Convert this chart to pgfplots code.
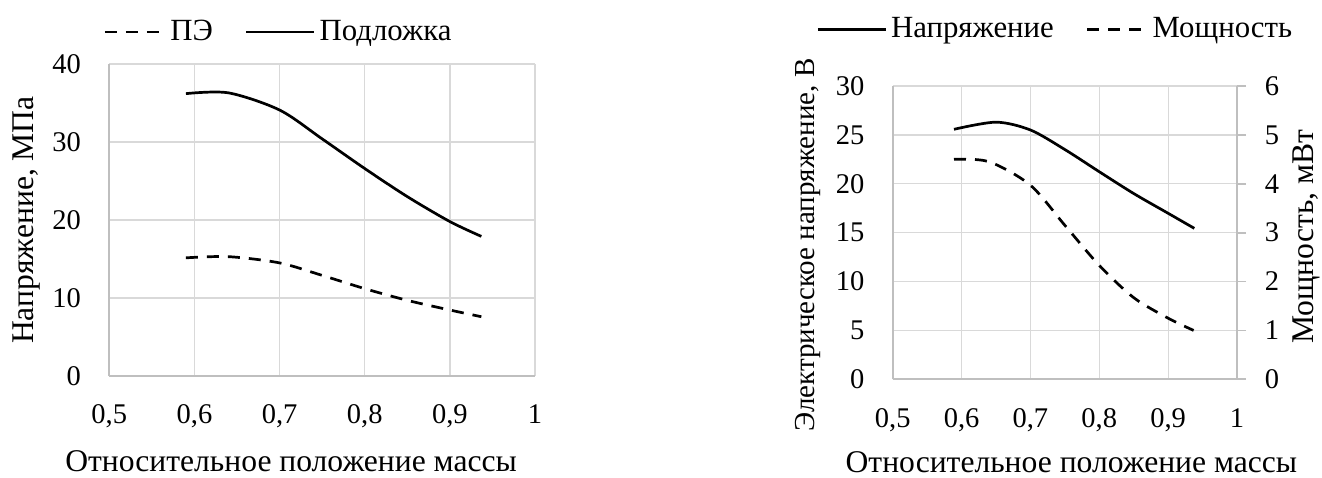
\documentclass[border=0pt]{standalone}
\usepackage{fontspec}
\setmainfont{Liberation Serif}
\usepackage{pgfplots}
\pgfplotsset{compat=1.18}

\definecolor{gridcol}{HTML}{D9D9D9}
\definecolor{axiscol}{HTML}{BFBFBF}

\pgfplotsset{
  excelstyle/.style={
    scale only axis,
    xmin=0.5, xmax=1,
    xtick={0.5,0.6,0.7,0.8,0.9,1},
    xticklabels={{0,5},{0,6},{0,7},{0,8},{0,9},1},
    grid=major,
    major grid style={draw=gridcol, line width=0.65pt},
    axis lines*=left,
    axis line style={-, draw=axiscol, line width=0.85pt},
    major tick length=0pt,
    ticklabel style={font=\fontsize{14.25}{16}\selectfont},
    label style={font=\fontsize{15.8}{18}\selectfont},
    xticklabel style={inner sep=0pt, anchor=north, yshift=-14.3pt},
    yticklabel style={inner sep=0pt, anchor=east, xshift=-14pt},
    /pgf/number format/assume math mode=true,
    legend style={draw=none, fill=none, font=\fontsize{15.4}{18}\selectfont,
      legend columns=-1,
      /tikz/every even column/.append style={column sep=14pt}},
    legend cell align=left,
  },
  solidline/.style={black, line width=1.35pt, smooth, line cap=butt,
    legend image code/.code={\draw[##1] (0pt,0pt) -- (34pt,0pt);}},
  dashline/.style={black, line width=1.35pt, smooth, line cap=butt,
    dash pattern=on 6pt off 4.5pt,
    legend image code/.code={\draw[##1] (0pt,0pt) -- (30pt,0pt);}},
}

\begin{document}
\begin{tikzpicture}
\useasboundingbox (0pt,0pt) rectangle (661pt,238.5pt);

% Left chart: stress in the film and in the substrate
\begin{axis}[excelstyle,
  at={(54.65pt,50.5pt)}, anchor=south west,
  width=212.85pt, height=156pt,
  ymin=0, ymax=40,
  ytick={0,10,20,30,40},
  yticklabels={0,10,20,30,40},
  xlabel={Относительное положение массы},
  ylabel={Напряжение, МПа},
  xlabel style={at={(axis description cs:0.427,-0.272)}, anchor=center},
  ylabel style={at={(axis description cs:-0.194,0.5)}, anchor=center},
  legend style={at={(axis description cs:0.40,1.103)}, anchor=center},
]
\addplot[dashline] coordinates {
  (0.590,15.15) (0.640,15.3) (0.700,14.5) (0.750,12.9)
  (0.800,11.2) (0.850,9.7) (0.900,8.46) (0.937,7.6)
};
\addlegendentry{ПЭ}
\addplot[solidline] coordinates {
  (0.590,36.2) (0.640,36.3) (0.700,34.1) (0.750,30.4)
  (0.800,26.6) (0.850,23.0) (0.900,19.8) (0.937,17.9)
};
\addlegendentry{Подложка}
\end{axis}

% Right chart: output voltage (left axis) and power (right axis)
\begin{axis}[excelstyle,
  at={(446.35pt,48.85pt)}, anchor=south west,
  width=172.15pt, height=146.65pt,
  ymin=0, ymax=30,
  ytick={0,5,10,15,20,25,30},
  yticklabels={0,5,10,15,20,25,30},
  xlabel={Относительное положение массы},
  ylabel={Электрическое напряжение, В},
  xlabel style={at={(axis description cs:0.519,-0.282)}, anchor=center},
  ylabel style={at={(axis description cs:-0.247,0.458)}, anchor=center,
    font=\fontsize{14.5}{17}\selectfont},
  legend style={at={(axis description cs:0.475,1.193)}, anchor=center},
]
\addplot[solidline] coordinates {
  (0.589,25.57) (0.650,26.3) (0.700,25.5) (0.750,23.5) (0.800,21.23)
  (0.850,19.0) (0.900,16.98) (0.938,15.44)
};
\addlegendentry{Напряжение}
\addlegendimage{dashline}
\addlegendentry{Мощность}
\end{axis}

\begin{axis}[
  scale only axis,
  at={(446.35pt,48.85pt)}, anchor=south west,
  width=172.15pt, height=146.65pt,
  xmin=0.5, xmax=1,
  ymin=0, ymax=6,
  axis x line=none,
  axis y line*=right,
  axis line style={-, draw=axiscol, line width=0.85pt},
  ytick={0,1,2,3,4,5,6},
  yticklabels={0,1,2,3,4,5,6},
  tick align=outside,
  major tick length=4.5pt,
  tick style={draw=axiscol, line width=0.85pt},
  ticklabel style={font=\fontsize{14.25}{16}\selectfont},
  yticklabel style={inner sep=0pt, anchor=west, xshift=9.2pt},
  ylabel={Мощность, мВт},
  label style={font=\fontsize{15.8}{18}\selectfont},
  ylabel style={at={(axis description cs:1.203,0.486)}, anchor=center},
]
\addplot[dashline] coordinates {
  (0.589,4.50) (0.640,4.45) (0.700,3.97) (0.750,3.15) (0.800,2.33)
  (0.850,1.67) (0.900,1.25) (0.937,1.0)
};
\end{axis}
\end{tikzpicture}
\end{document}
